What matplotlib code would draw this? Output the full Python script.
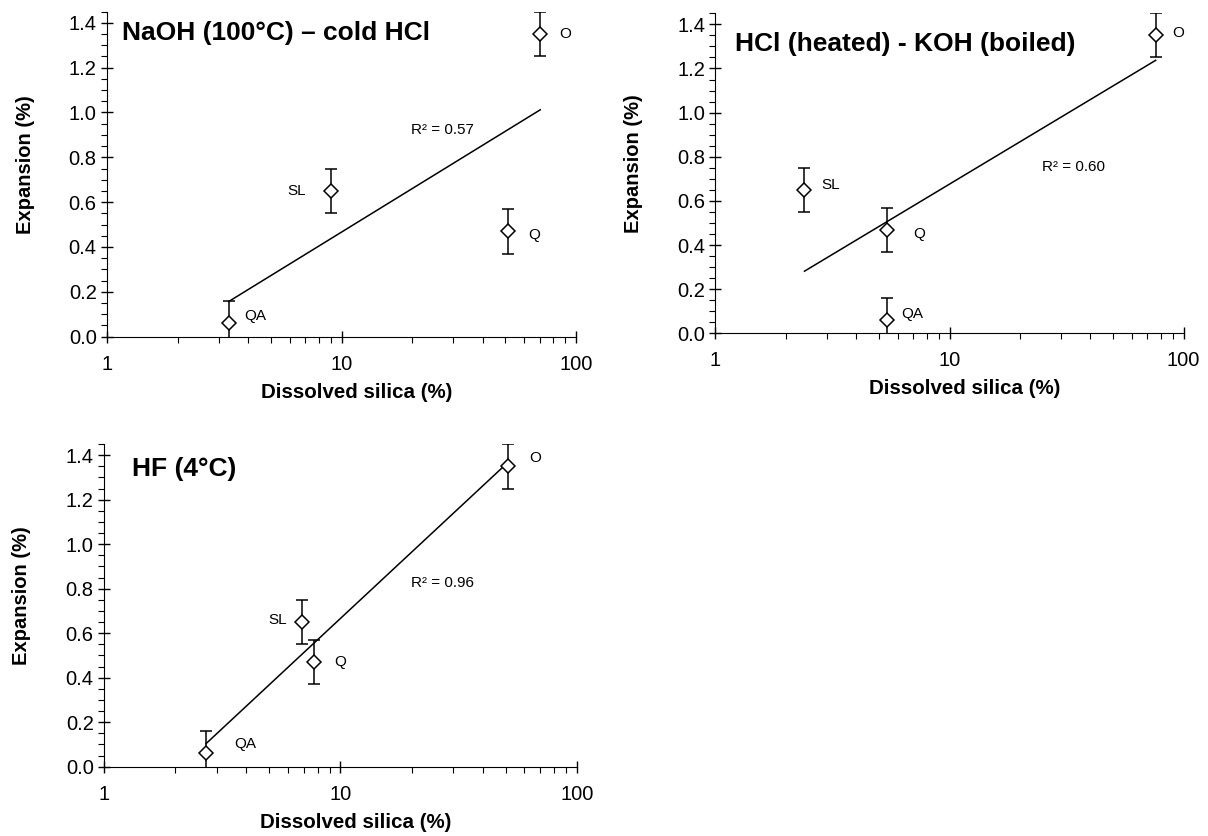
import numpy as np
import matplotlib.pyplot as plt
from matplotlib.ticker import MultipleLocator, NullFormatter

plt.rcParams['font.family'] = ['Liberation Sans', 'DejaVu Sans']

# sample names and measured expansion (same for every treatment)
samples = ['QA', 'SL', 'Q', 'O']
expansion = [0.06, 0.65, 0.47, 1.35]
expansion_err = [0.1, 0.1, 0.1, 0.1]

# dissolved silica (%) for each treatment, same sample order
silica_naoh = [3.3, 9.0, 51.5, 70.5]
silica_hcl_koh = [5.4, 2.4, 5.4, 76.0]
silica_hf = [2.7, 6.9, 7.7, 51.0]

titles = ['NaOH (100°C) – cold HCl', 'HCl (heated) - KOH (boiled)', 'HF (4°C)']
r2_values = ['0.57', '0.60', '0.96']

# layout: axes rectangles, title / R2 positions (axes fraction), label offsets (points)
rects = [[0.0887, 0.5973, 0.388, 0.3888],
         [0.5923, 0.6013, 0.3875, 0.3828],
         [0.0862, 0.0829, 0.3912, 0.386]]
title_pos = [(0.031, 0.933), (0.042, 0.905), (0.059, 0.922)]
r2_pos = [(0.649, 0.636), (0.698, 0.52), (0.650, 0.568)]
label_offsets = [
    [(11.5, 5), (-18, 0), (14, -3), (14, 0)],
    [(10.5, 4.5), (12.5, 3.5), (19, -3.5), (12, 2)],
    [(20.5, 6.5), (-11, 1.5), (15, 0), (15.5, 6)],
]

fig = plt.figure(figsize=(12.08, 8.36), dpi=100)

for i, silica in enumerate([silica_naoh, silica_hcl_koh, silica_hf]):
    ax = fig.add_axes(rects[i])

    # log trend line
    xs = np.array(silica)
    coef = np.polyfit(np.log10(xs), expansion, 1)
    xx = np.logspace(np.log10(xs.min()), np.log10(xs.max()), 60)
    ax.plot(xx, np.polyval(coef, np.log10(xx)), color='black', lw=1.1, zorder=2)

    ax.errorbar(silica, expansion, yerr=expansion_err, fmt='D', ms=7,
                mfc='white', mec='black', mew=1.1, ecolor='black',
                elinewidth=1.1, capsize=4.5, capthick=1.1, zorder=3)

    for j, name in enumerate(samples):
        dx, dy = label_offsets[i][j]
        ax.annotate(name, (silica[j], expansion[j]), xytext=(dx, dy),
                    textcoords='offset points', fontsize=11,
                    ha='right' if dx < 0 else 'left', va='center')

    ax.text(*title_pos[i], titles[i], transform=ax.transAxes, fontsize=19,
            fontweight='bold', ha='left', va='center')
    ax.text(*r2_pos[i], 'R² = ' + r2_values[i], transform=ax.transAxes,
            fontsize=11, ha='left', va='center')

    ax.set_xscale('log')
    ax.set_xlim(1, 100)
    ax.set_ylim(0, 1.45)
    ax.set_xticks([1, 10, 100], ['1', '10', '100'])
    ax.xaxis.set_minor_formatter(NullFormatter())
    ax.set_yticks(np.arange(0, 1.41, 0.2), [f'{v:.1f}' for v in np.arange(0, 1.41, 0.2)])
    ax.yaxis.set_minor_locator(MultipleLocator(0.05))

    ax.tick_params(which='major', direction='inout', length=8, width=1, labelsize=14.5)
    ax.tick_params(which='minor', direction='out', length=4, width=0.8)
    ax.tick_params(axis='x', which='major', pad=9)
    for s in ['top', 'right']:
        ax.spines[s].set_visible(False)

    ax.set_xlabel('Dissolved silica (%)', fontsize=14.8, fontweight='bold')
    ax.set_ylabel('Expansion (%)', fontsize=14.5, fontweight='bold')
    ax.xaxis.set_label_coords(0.532, -0.142)
    ax.yaxis.set_label_coords(-0.155, 0.53)

fig.savefig('out.png', dpi=100)
